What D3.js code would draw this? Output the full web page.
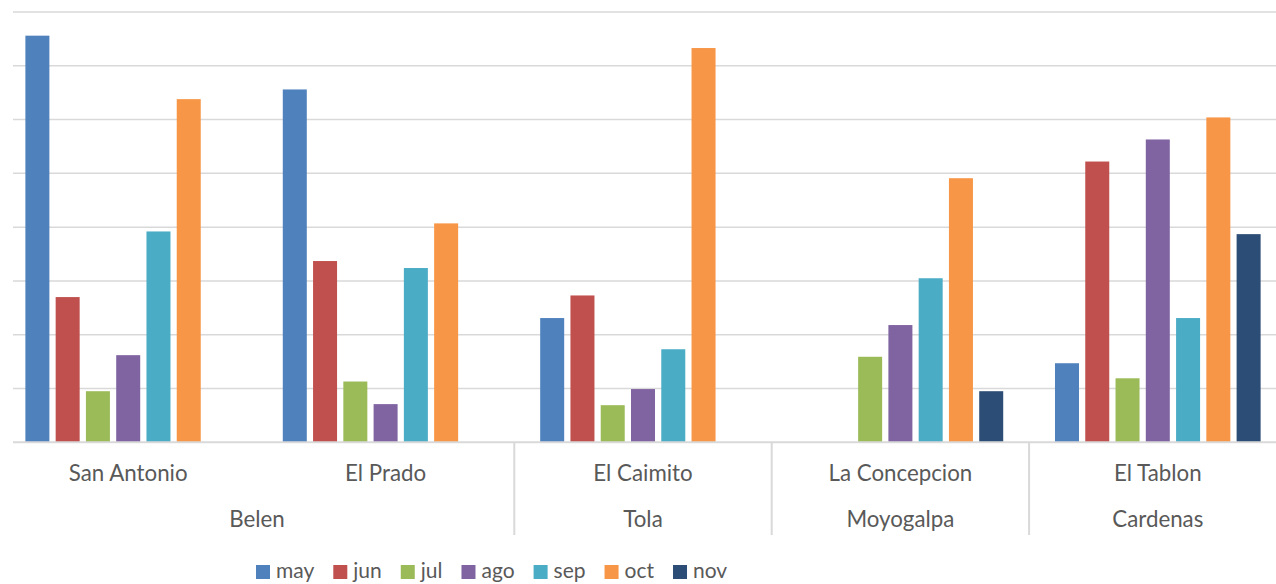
<!DOCTYPE html>
<html>
<head>
<meta charset="utf-8">
<script src="https://cdn.jsdelivr.net/npm/d3@7"></script>
<style>
  html, body { margin: 0; padding: 0; background: #ffffff; }
  svg { display: block; }
  text { font-family: Lato, "Open Sans", "Liberation Sans", sans-serif; fill: #595959; }
</style>
</head>
<body>
<svg id="chart" width="1276" height="584"></svg>
<script>
// Sites (first axis level) and their municipality (second axis level)
const categories = ["San Antonio", "El Prado", "El Caimito", "La Concepcion", "El Tablon"];
const groups     = ["Belen", "Belen", "Tola", "Moyogalpa", "Cardenas"];

// Monthly series, one value per site (null = no record)
const months = ["may", "jun", "jul", "ago", "sep", "oct", "nov"];
const may = [75.6, 65.6, 23.1, null, 14.7];
const jun = [27.0, 33.7, 27.3, null, 52.2];
const jul = [9.5, 11.3, 6.9, 15.9, 11.9];
const ago = [16.2, 7.1, 9.9, 21.8, 56.3];
const sep = [39.2, 32.4, 17.3, 30.5, 23.1];
const oct = [63.8, 40.7, 73.3, 49.1, 60.4];
const nov = [null, null, null, 9.5, 38.7];

const yTicks = [0, 10, 20, 30, 40, 50, 60, 70, 80];
const colors = ["#4F81BD", "#C0504D", "#9BBB59", "#8064A2", "#4BACC6", "#F79646", "#2C4D75"];

const seriesValues = [may, jun, jul, ago, sep, oct, nov];
const series = months.map((m, i) => ({ name: m, color: colors[i], values: seriesValues[i] }));

const svg = d3.select("#chart");
const W = 1276;

// Plot geometry
const baseY = 442.3, topY = 12;
const gridLeft = 13, gridRight = W;

const x0 = d3.scaleBand().domain(categories).range([-0.5, 1286.5]).paddingInner(0).paddingOuter(0);
const x1 = d3.scaleBand().domain(months).range([0, x0.bandwidth()]).paddingInner(0.207).paddingOuter(0.855);
const y = d3.scaleLinear().domain([0, 80]).range([baseY, topY]);

// Horizontal gridlines
svg.append("g").selectAll("line").data(yTicks.slice(1)).join("line")
  .attr("x1", gridLeft).attr("x2", gridRight)
  .attr("y1", d => y(d)).attr("y2", d => y(d))
  .attr("stroke", "#d9d9d9").attr("stroke-width", 1.5);

// Bars
const barG = svg.append("g");
categories.forEach((cat, ci) => {
  const g = barG.append("g").attr("transform", `translate(${x0(cat)},0)`);
  series.forEach(s => {
    const v = s.values[ci];
    if (v == null) return;
    g.append("rect")
      .attr("x", x1(s.name))
      .attr("width", x1.bandwidth())
      .attr("y", y(v))
      .attr("height", y(0) - y(v))
      .attr("fill", s.color);
  });
});

// Category axis line
svg.append("line")
  .attr("x1", gridLeft).attr("x2", gridRight)
  .attr("y1", y(0)).attr("y2", y(0))
  .attr("stroke", "#d9d9d9").attr("stroke-width", 2);

// Dividers between municipality groups
const dividerX = [];
for (let i = 1; i < categories.length; i++) {
  if (groups[i] !== groups[i - 1]) dividerX.push(x0(categories[i]));
}
svg.append("g").selectAll("line").data(dividerX).join("line")
  .attr("x1", d => d).attr("x2", d => d)
  .attr("y1", y(0)).attr("y2", 535)
  .attr("stroke", "#d9d9d9").attr("stroke-width", 2);

// First level labels
svg.append("g").selectAll("text").data(categories).join("text")
  .attr("x", d => x0(d) + x0.bandwidth() / 2)
  .attr("y", 481)
  .attr("text-anchor", "middle")
  .style("font-size", "22.3px")
  .text(d => d);

// Second level labels (centered over their run of sites)
const runs = [];
groups.forEach((g, i) => {
  const last = runs[runs.length - 1];
  if (last && last.name === g) last.end = i;
  else runs.push({ name: g, start: i, end: i });
});
svg.append("g").selectAll("text").data(runs).join("text")
  .attr("x", d => (x0(categories[d.start]) + x0(categories[d.end]) + x0.bandwidth()) / 2)
  .attr("y", 527)
  .attr("text-anchor", "middle")
  .style("font-size", "22.3px")
  .text(d => d.name);

// Legend
const legend = svg.append("g");
let lx = 256;
series.forEach(s => {
  const item = legend.append("g");
  item.append("rect").attr("x", lx).attr("y", 565).attr("width", 14).attr("height", 14).attr("fill", s.color);
  const t = item.append("text").attr("x", lx + 20).attr("y", 578).style("font-size", "21px").text(s.name);
  lx += 20 + t.node().getComputedTextLength() + 19;
});
</script>
</body>
</html>
